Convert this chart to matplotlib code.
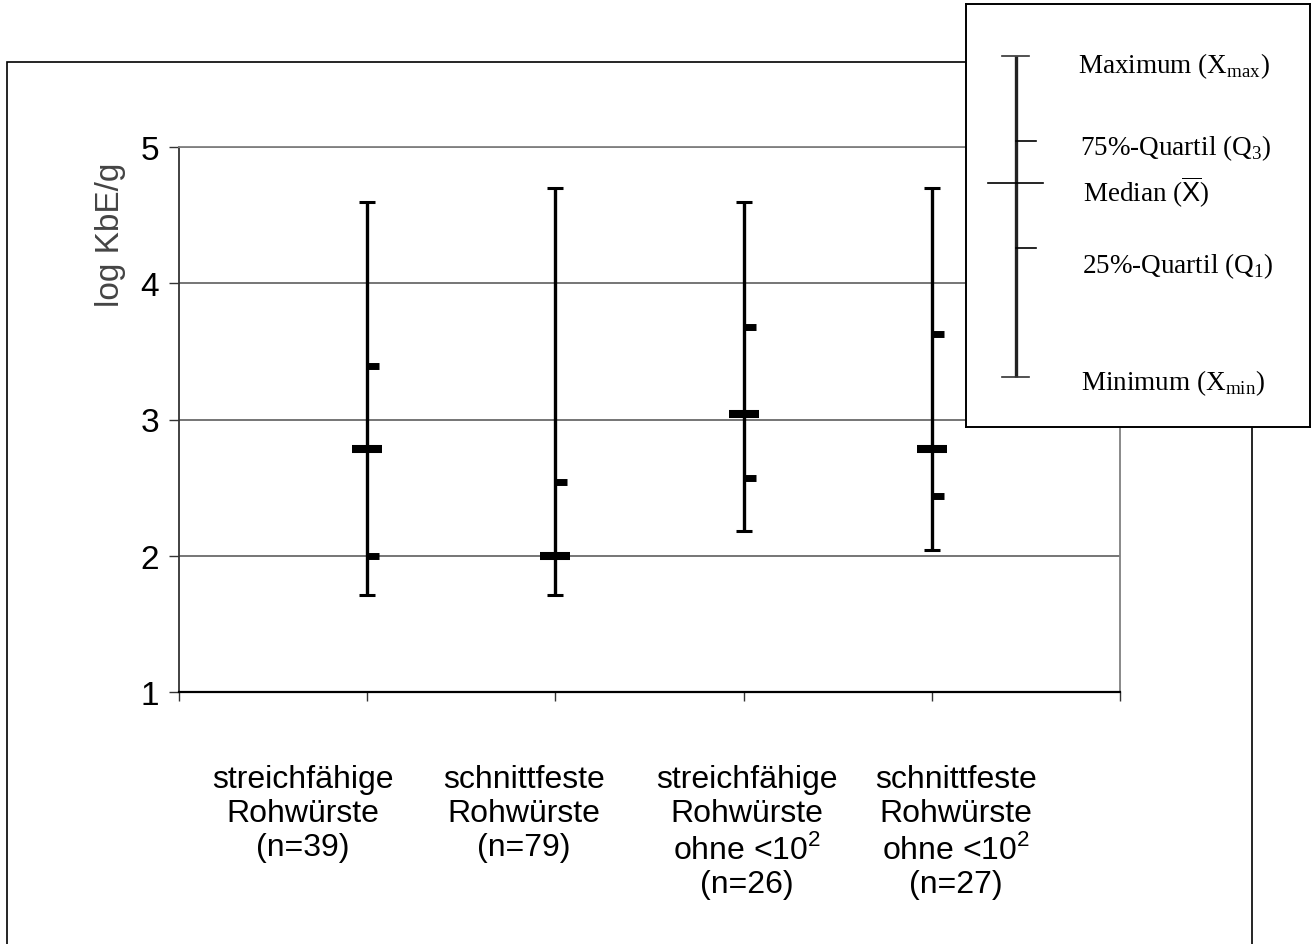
import matplotlib
matplotlib.use('Agg')
import matplotlib.pyplot as plt
from matplotlib.patches import Rectangle

plt.rcParams['font.family'] = ['Liberation Sans', 'DejaVu Sans']
plt.rcParams['mathtext.fontset'] = 'custom'
plt.rcParams['mathtext.rm'] = 'Liberation Serif'
plt.rcParams['mathtext.sf'] = 'Liberation Sans'

# data (log KbE/g)
groups = ['streichfähige\nRohwürste\n(n=39)',
          'schnittfeste\nRohwürste\n(n=79)',
          'streichfähige\nRohwürste\nohne <10$^{\\mathsf{2}}$\n(n=26)',
          'schnittfeste\nRohwürste\nohne <10$^{\\mathsf{2}}$\n(n=27)']
x_pos = [1, 2, 3, 4]
maxima = [4.60, 4.70, 4.60, 4.70]
q3 = [3.39, 2.54, 3.68, 3.63]
medians = [2.78, 2.00, 3.04, 2.78]
q1 = [2.00, 2.00, 2.57, 2.44]
minima = [1.71, 1.71, 2.18, 2.04]

W, H = 1312, 945
fig = plt.figure(figsize=(W / 100, H / 100), dpi=100)

def px(x0, y0, x1, y1):
    # pixel box -> figure fraction [left, bottom, width, height]
    return [x0 / W, 1 - y1 / H, (x1 - x0) / W, (y1 - y0) / H]

# outer frame
fig.add_artist(Rectangle((7 / W, -0.1), (1252 - 7) / W, 1.1 - 63 / H,
                         transform=fig.transFigure, fill=False,
                         edgecolor='black', lw=1.2, zorder=0))

ax = fig.add_axes(px(179, 148, 1120, 693))
ax.set_xlim(0, 5)
ax.set_ylim(1, 5)
ax.set_xticks(range(6))
ax.set_xticklabels([])
ax.set_yticks([1, 2, 3, 4, 5])
ax.tick_params(axis='y', direction='out', length=7.5, width=1, pad=7,
               labelsize=24, color='#333333')
ax.tick_params(axis='x', direction='out', length=6.5, width=1, color='#333333')
ax.grid(axis='y', color='#505050', lw=1.1)
ax.set_axisbelow(True)
for side in ['top', 'right']:
    ax.spines[side].set_color('#808080')
    ax.spines[side].set_linewidth(1.3)
ax.spines['left'].set_color('#333333')
ax.spines['left'].set_linewidth(1.3)
ax.spines['bottom'].set_color('black')
ax.spines['bottom'].set_linewidth(1.6)

ax.text(-0.0723, 0.84, 'log KbE/g', transform=ax.transAxes, rotation=90,
        ha='center', va='center', fontsize=24, color='#444444')

# whiskers min..max with caps
yerr = [[m - lo for m, lo in zip(medians, minima)],
        [hi - m for m, hi in zip(medians, maxima)]]
ax.errorbar(x_pos, medians, yerr=yerr, fmt='none', ecolor='black',
            elinewidth=2.4, capsize=6.1, capthick=2.2, zorder=3)
# quartiles: short ticks to the right
ax.plot(x_pos, q3, ls='none', marker=1, ms=8.8, mew=5, color='black', zorder=4)
ax.plot(x_pos, q1, ls='none', marker=1, ms=8.8, mew=5, color='black', zorder=4)
# median: thick bar across
ax.plot(x_pos, medians, ls='none', marker='_', ms=21.6, mew=5.8,
        color='black', zorder=5)

# category labels below the axis
label_x = [303, 524, 747, 956]
for lx, g in zip(label_x, groups):
    fig.text(lx / W, 1 - 765 / H, g, ha='center', va='top',
             multialignment='center', fontsize=23, linespacing=1.18)

# legend box explaining the symbol
lg = fig.add_axes(px(966, 5, 1310, 428), zorder=10)
lg.set_xlim(966, 1310)
lg.set_ylim(428, 5)
lg.set_xticks([])
lg.set_yticks([])
for s in lg.spines.values():
    s.set_linewidth(1.4)
    s.set_color('black')
lg.plot([1015.5, 1015.5], [57, 378], color='#222222', lw=2.4,
        solid_capstyle='butt')
lg.plot([1002, 1029], [57, 57], color='#333333', lw=1.2)
lg.plot([1002, 1029], [378, 378], color='#333333', lw=1.2)
lg.plot([1015.5, 1036], [142, 142], color='black', lw=1.2)
lg.plot([988, 1043], [184, 184], color='black', lw=1.2)
lg.plot([1015.5, 1036], [249, 249], color='black', lw=1.2)

serif = dict(family=['Liberation Serif', 'DejaVu Serif'], fontsize=19.5,
             va='center', ha='left')
lg.text(1078, 66, r'Maximum (X$_{\rm max}$)', **serif)
lg.text(1080, 148, r'75%-Quartil (Q$_3$)', **serif)
lg.text(1083, 192, r'Median ($\overline{\mathsf{X}}$)', **serif)
lg.text(1082, 266, r'25%-Quartil (Q$_1$)', **serif)
lg.text(1081, 383, r'Minimum (X$_{\rm min}$)', **serif)

fig.savefig('out.png', dpi=100)
